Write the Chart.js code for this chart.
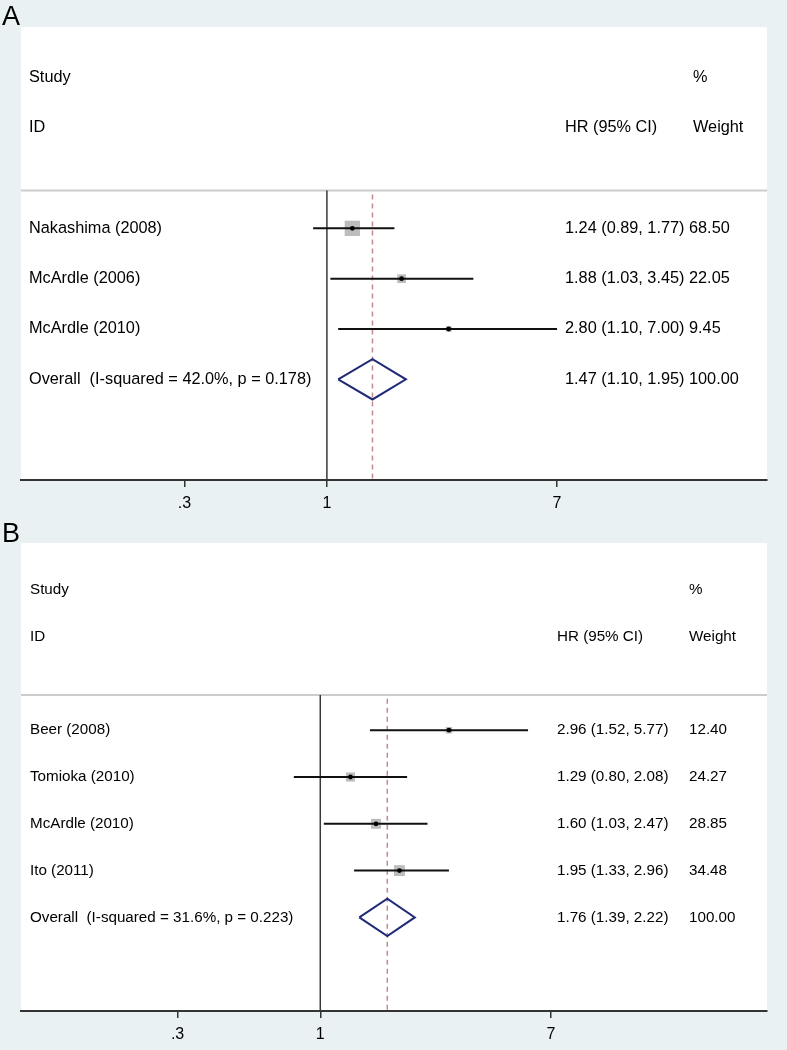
<!DOCTYPE html>
<html>
<head>
<meta charset="utf-8">
<script src="https://cdn.jsdelivr.net/npm/chart.js@4.4.1/dist/chart.umd.min.js"></script>
<style>
  html, body { margin: 0; padding: 0; background: #e9f1f3; }
  #wrap { position: relative; width: 787px; height: 1050px; }
  canvas { position: absolute; left: 0; }
</style>
</head>
<body>
<div id="wrap">
  <canvas id="panelA" width="787" height="520" style="top:0"></canvas>
  <canvas id="panelB" width="787" height="530" style="top:520px"></canvas>
</div>
<script>
// panel A
const studiesA = ['Nakashima (2008)', 'McArdle (2006)', 'McArdle (2010)'];
const hrA = [1.24, 1.88, 2.80];
const loA = [0.89, 1.03, 1.10];
const hiA = [1.77, 3.45, 7.00];
const weightA = [68.50, 22.05, 9.45];
const overallA = [1.47, 1.10, 1.95];
const overallLabelA = 'Overall  (I-squared = 42.0%, p = 0.178)';

// panel B
const studiesB = ['Beer (2008)', 'Tomioka (2010)', 'McArdle (2010)', 'Ito (2011)'];
const hrB = [2.96, 1.29, 1.60, 1.95];
const loB = [1.52, 0.80, 1.03, 1.33];
const hiB = [5.77, 2.08, 2.47, 2.96];
const weightB = [12.40, 24.27, 28.85, 34.48];
const overallB = [1.76, 1.39, 2.22];
const overallLabelB = 'Overall  (I-squared = 31.6%, p = 0.223)';

const tickVals = [0.3, 1, 7];
const tickLabels = ['.3', '1', '7'];

const BG = '#e9f1f3';
const FONT = '"Liberation Sans", Arial, sans-serif';

function fmt(v) { return v.toFixed(2); }

function makePanel(id, p) {
    const n = p.names.length;
    const rowOverall = n + 4;
    const sepY = 3.25;
    const datasets = [];

    // black centre dots
    datasets.push({
        data: p.hr.map((v, i) => ({x: v, y: i + 4})),
        pointStyle: 'circle', pointRadius: 2.4, backgroundColor: '#000', borderWidth: 0, order: 0
    });
    // confidence interval lines
    for (let i = 0; i < n; i++) {
        datasets.push({
            data: [{x: p.lo[i], y: i + 4}, {x: p.hi[i], y: i + 4}],
            showLine: true, borderColor: '#111', borderWidth: 2, pointRadius: 0, order: 1
        });
    }
    // weight squares
    datasets.push({
        data: p.hr.map((v, i) => ({x: v, y: i + 4})),
        pointStyle: 'rect',
        pointRadius: p.wt.map(w => 1.85 * Math.sqrt(w) / Math.SQRT2),
        backgroundColor: '#bdbdbd', borderWidth: 0, order: 2
    });
    // diamond
    const o = p.overall;
    datasets.push({
        data: [
            {x: o[1], y: rowOverall}, {x: o[0], y: rowOverall - 0.4},
            {x: o[2], y: rowOverall}, {x: o[0], y: rowOverall + 0.4},
            {x: o[1], y: rowOverall}
        ],
        showLine: true, borderColor: '#1f2a78', borderWidth: 2, pointRadius: 0, order: 1
    });
    // line of no effect
    datasets.push({
        data: [{x: 1, y: sepY}, {x: 1, y: p.yMax}],
        showLine: true, borderColor: '#3a3a3a', borderWidth: 1.5, pointRadius: 0, order: 3
    });
    // overall estimate dashed line
    datasets.push({
        data: [{x: o[0], y: sepY + 0.08}, {x: o[0], y: p.yMax}],
        showLine: true, borderColor: '#c48a8a', borderWidth: 1.5, borderDash: [5, 4], pointRadius: 0, order: 3
    });
    // header separator
    datasets.push({
        data: [{x: p.xMin, y: sepY}, {x: p.xMax, y: sepY}],
        showLine: true, borderColor: '#cccccc', borderWidth: 2, pointRadius: 0, order: 4
    });

    const textPlugin = {
        id: 'texts',
        beforeDraw(chart) {
            const ctx = chart.ctx, a = chart.chartArea;
            ctx.save();
            ctx.fillStyle = BG;
            ctx.fillRect(0, 0, chart.width, chart.height);
            ctx.fillStyle = '#fff';
            ctx.fillRect(a.left, a.top, a.right - a.left, a.bottom - a.top);
            ctx.restore();
        },
        afterDatasetsDraw(chart) {
            const ctx = chart.ctx, ys = chart.scales.y;
            ctx.save();
            ctx.fillStyle = '#000';
            ctx.font = p.letterSize + 'px ' + FONT;
            ctx.textBaseline = 'alphabetic';
            ctx.fillText(p.letter, 2, p.letterY);

            ctx.fillStyle = '#000';
            ctx.font = p.fontSize + 'px ' + FONT;
            ctx.textBaseline = 'middle';
            const y = v => ys.getPixelForValue(v);
            ctx.fillText('Study', p.nameX, y(1));
            ctx.fillText('ID', p.nameX, y(2));
            ctx.fillText('HR (95% CI)', p.hrX, y(2));
            ctx.fillText('%', p.wtX, y(1));
            ctx.fillText('Weight', p.wtX, y(2));
            for (let i = 0; i < n; i++) {
                const ci = fmt(p.hr[i]) + ' (' + fmt(p.lo[i]) + ', ' + fmt(p.hi[i]) + ')';
                ctx.fillText(p.names[i], p.nameX, y(i + 4));
                if (p.inlineWeight) {
                    ctx.fillText(ci + ' ' + fmt(p.wt[i]), p.hrX, y(i + 4));
                } else {
                    ctx.fillText(ci, p.hrX, y(i + 4));
                    ctx.fillText(fmt(p.wt[i]), p.wtX, y(i + 4));
                }
            }
            const oci = fmt(o[0]) + ' (' + fmt(o[1]) + ', ' + fmt(o[2]) + ')';
            ctx.fillText(p.overallLabel, p.nameX, y(rowOverall));
            if (p.inlineWeight) {
                ctx.fillText(oci + ' 100.00', p.hrX, y(rowOverall));
            } else {
                ctx.fillText(oci, p.hrX, y(rowOverall));
                ctx.fillText('100.00', p.wtX, y(rowOverall));
            }
            ctx.restore();
        }
    };

    new Chart(document.getElementById(id), {
        type: 'scatter',
        data: {datasets: datasets},
        options: {
            responsive: false,
            animation: false,
            devicePixelRatio: 1,
            layout: {padding: {left: 21, right: 20, top: p.top, bottom: 0}},
            plugins: {legend: {display: false}, tooltip: {enabled: false}},
            elements: {line: {tension: 0}},
            scales: {
                x: {
                    type: 'logarithmic',
                    min: p.xMin,
                    max: p.xMax,
                    afterBuildTicks: s => { s.ticks = tickVals.map(v => ({value: v})); },
                    afterFit: s => { s.height = p.axisH; },
                    ticks: {
                        autoSkip: false, maxRotation: 0, padding: 7,
                        color: '#000', font: {family: FONT, size: 16},
                        callback: (v, i) => tickLabels[i]
                    },
                    grid: {drawOnChartArea: false, drawTicks: true, tickLength: 7, color: '#333', lineWidth: 1.5},
                    border: {display: true, color: '#333', width: 2}
                },
                y: {type: 'linear', reverse: true, min: 0, max: p.yMax, display: false}
            }
        },
        plugins: [textPlugin]
    });
}

makePanel('panelA', {
    names: studiesA, hr: hrA, lo: loA, hi: hiA, wt: weightA,
    overall: overallA, overallLabel: overallLabelA, inlineWeight: true,
    xMin: 0.0753, xMax: 41.3, yMax: 9, top: 27, axisH: 40,
    fontSize: 16.3, nameX: 29, hrX: 565, wtX: 693,
    letter: 'A', letterSize: 27, letterY: 25
});

makePanel('panelB', {
    names: studiesB, hr: hrB, lo: loB, hi: hiB, wt: weightB,
    overall: overallB, overallLabel: overallLabelB, inlineWeight: false,
    xMin: 0.0801, xMax: 43.3, yMax: 10, top: 23, axisH: 39,
    fontSize: 15.2, nameX: 30, hrX: 557, wtX: 689,
    letter: 'B', letterSize: 27, letterY: 22
});
</script>
</body>
</html>
